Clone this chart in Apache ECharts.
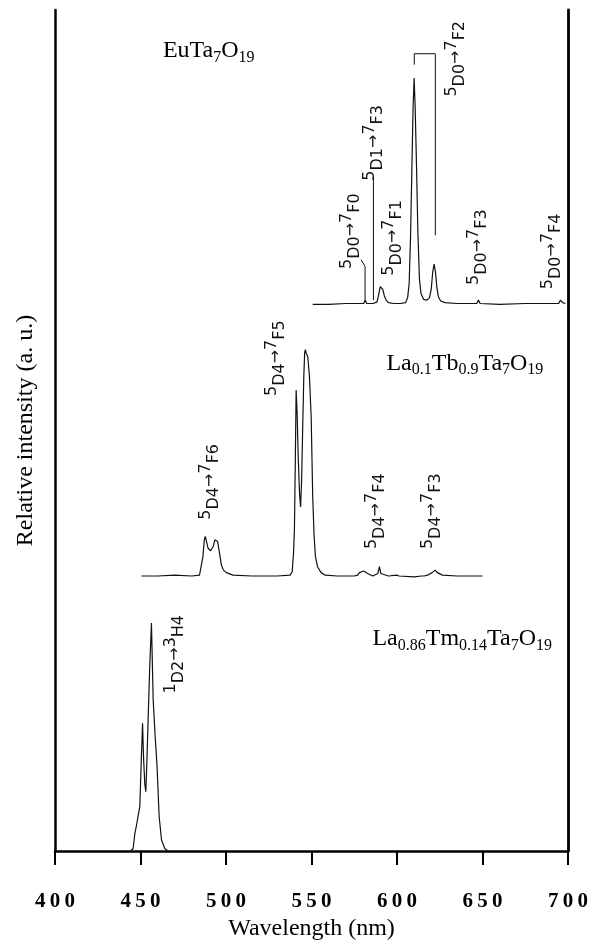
<!DOCTYPE html>
<html>
<head>
<meta charset="utf-8">
<script src="https://cdn.jsdelivr.net/npm/echarts@6/dist/echarts.min.js"></script>
<style>
  html, body { margin: 0; padding: 0; background: #fff; }
  #chart { width: 591px; height: 947px; }
</style>
</head>
<body>
<div id="chart"></div>
<script>
// EuTa7O19 spectrum (offset upwards)
const euWavelength = [550.7, 560, 570, 578, 580.5, 581.4, 582.3, 586, 588.3, 589.3, 590.2, 590.9, 591.6, 592.6, 593.6, 595, 598, 602, 605, 606.2, 607.1, 607.9, 608.7, 609.4, 610.0, 610.6, 611.4, 612.2, 613.1, 614.0, 615.5, 617.5, 619.0, 620.0, 620.9, 621.7, 622.5, 623.3, 624.2, 625.5, 628, 635, 645, 646.6, 647.6, 648.6, 660, 675, 690, 694.5, 695.6, 696.8, 698.5];
const euIntensity = [65.0, 65.0, 65.1, 65.1, 65.1, 65.5, 65.1, 65.1, 65.3, 66.2, 67.1, 67.0, 66.8, 66.0, 65.5, 65.2, 65.1, 65.1, 65.2, 65.8, 67.5, 73.0, 81.4, 88.5, 91.9, 88.5, 81.4, 73.5, 68.0, 66.3, 65.6, 65.5, 65.8, 66.8, 68.9, 69.8, 68.8, 67.0, 65.9, 65.4, 65.2, 65.1, 65.1, 65.1, 65.5, 65.1, 65.0, 65.1, 65.1, 65.1, 65.5, 65.2, 65.1];

// La0.1Tb0.9Ta7O19 spectrum
const tbWavelength = [450.6, 460, 470, 480, 484.5, 485.6, 486.5, 487.3, 487.9, 488.6, 489.5, 491.0, 492.5, 493.5, 494.3, 495.1, 495.9, 497.3, 498.5, 500.2, 504.1, 515, 530, 537.5, 538.7, 539.5, 540.0, 540.5, 541.0, 541.6, 542.2, 543.0, 543.6, 544.2, 544.8, 545.5, 546.0, 546.4, 546.9, 547.8, 548.8, 549.8, 550.7, 551.5, 552.3, 553.5, 555.6, 558, 565, 575, 577.0, 578.0, 579.0, 580.5, 581.5, 582.8, 585.8, 588.8, 589.7, 590.5, 591.5, 595, 599.8, 600.4, 601.2, 610, 614.3, 614.9, 615.8, 617.8, 620.5, 622.3, 623.5, 626.6, 635, 649.9];
const tbIntensity = [32.7, 32.7, 32.8, 32.7, 32.8, 33.0, 35.0, 37.0, 37.4, 36.8, 36.0, 35.7, 36.2, 37.0, 37.2, 36.8, 35.8, 34.0, 33.4, 33.1, 32.8, 32.7, 32.7, 32.8, 33.2, 35.5, 38.2, 46.0, 54.8, 52.0, 47.0, 42.5, 40.9, 44.0, 50.0, 56.5, 59.3, 59.6, 59.2, 58.8, 56.4, 51.6, 42.1, 37.5, 35.0, 33.8, 33.1, 32.8, 32.7, 32.7, 32.8, 33.1, 32.9, 33.3, 33.2, 33.0, 32.7, 33.0, 33.8, 33.0, 32.8, 32.7, 32.8, 33.0, 32.7, 32.6, 32.7, 32.9, 32.7, 32.8, 33.1, 33.4, 33.1, 32.8, 32.7, 32.7];

// La0.86Tm0.14Ta7O19 spectrum
const tmWavelength = [444, 445.7, 446.7, 447.6, 448.6, 449.6, 450.4, 451.2, 451.8, 452.5, 453.1, 453.8, 454.5, 455.4, 456.4, 457.4, 458.6, 459.7, 460.9, 462.3, 464.2, 466];
const tmIntensity = [0, 0.3, 2.1, 3.0, 2.9, 5.3, 10.5, 15.2, 11.0, 8.0, 7.05, 11.0, 16.0, 21.9, 27.1, 18.0, 13.5, 10.0, 4.1, 1.3, 0.3, 0];

// transition labels: [sup, low, sup, low], anchored at (wavelength, intensity)
const transitions = [
  { parts: ['5', 'D0', '7', 'F2'], wl: 634.4, val: 94.2 },
  { parts: ['5', 'D1', '7', 'F3'], wl: 586.7, val: 84.2 },
  { parts: ['5', 'D0', '7', 'F1'], wl: 597.4, val: 72.9 },
  { parts: ['5', 'D0', '7', 'F0'], wl: 573.2, val: 73.7 },
  { parts: ['5', 'D0', '7', 'F3'], wl: 647.1, val: 71.8 },
  { parts: ['5', 'D0', '7', 'F4'], wl: 690.8, val: 71.3 },
  { parts: ['5', 'D4', '7', 'F5'], wl: 529.4, val: 58.6 },
  { parts: ['5', 'D4', '7', 'F6'], wl: 490.5, val: 43.9 },
  { parts: ['5', 'D4', '7', 'F4'], wl: 587.7, val: 40.4 },
  { parts: ['5', 'D4', '7', 'F3'], wl: 620.2, val: 40.4 },
  { parts: ['1', 'D2', '3', 'H4'], wl: 470.0, val: 23.4 }
];

// sample names: alternating normal / subscript pieces
const samples = [
  { parts: ['EuTa', '7', 'O', '19'], wl: 463.1, val: 95.2 },
  { parts: ['La', '0.1', 'Tb', '0.9', 'Ta', '7', 'O', '19'], wl: 593.8, val: 58.0 },
  { parts: ['La', '0.86', 'Tm', '0.14', 'Ta', '7', 'O', '19'], wl: 585.6, val: 25.2 }
];

// assignment guide lines in the Eu spectrum
const guideLines = [
  [[586.2, 65.5], [586.2, 80.2]],
  [[581.3, 65.3], [581.3, 69.5], [579.0, 70.3]],
  [[610.1, 93.5], [610.1, 94.8], [622.4, 94.8], [622.4, 73.2]]
];

const toPairs = (xs, ys) => xs.map((x, i) => [x, ys[i]]);
const serif = 'Liberation Serif, Times New Roman, serif';

const chart = echarts.init(document.getElementById('chart'));

const lineSeries = (data) => ({
  type: 'line',
  data: data,
  showSymbol: false,
  symbol: 'none',
  silent: true,
  lineStyle: { color: '#111', width: 1.2 },
  animation: false
});

chart.setOption({
  animation: false,
  grid: { left: 55, right: 22, top: 10, bottom: 96 },
  xAxis: [{
    type: 'value',
    min: 400, max: 700, interval: 50,
    name: 'Wavelength (nm)',
    nameLocation: 'middle',
    nameGap: 62,
    nameTextStyle: { fontFamily: serif, fontSize: 24, color: '#000' },
    axisLine: { lineStyle: { color: '#000', width: 2.5 } },
    axisTick: { length: 14, lineStyle: { color: '#000', width: 2 } },
    axisLabel: {
      margin: 40,
      fontFamily: serif, fontSize: 21, fontWeight: 'bold', color: '#000',
      formatter: v => String(v).split('').join('\u2009')
    },
    splitLine: { show: false }
  }, {
    type: 'value', position: 'top',
    min: 400, max: 700,
    axisLine: { lineStyle: { color: '#000', width: 1 } },
    axisTick: { show: false }, axisLabel: { show: false }, splitLine: { show: false }
  }],
  yAxis: [{
    type: 'value',
    min: 0, max: 100,
    name: 'Relative intensity (a. u.)',
    nameLocation: 'middle',
    nameGap: 17,
    nameTextStyle: { fontFamily: serif, fontSize: 24, color: '#000' },
    axisLine: { show: true, lineStyle: { color: '#000', width: 2.5 } },
    axisTick: { show: false }, axisLabel: { show: false }, splitLine: { show: false }
  }, {
    type: 'value', position: 'right',
    min: 0, max: 100,
    axisLine: { show: true, lineStyle: { color: '#000', width: 2.8 } },
    axisTick: { show: false }, axisLabel: { show: false }, splitLine: { show: false }
  }],
  series: [
    lineSeries(toPairs(euWavelength, euIntensity)),
    lineSeries(toPairs(tbWavelength, tbIntensity)),
    lineSeries(toPairs(tmWavelength, tmIntensity))
  ]
});

const px = (p) => chart.convertToPixel({ xAxisIndex: 0, yAxisIndex: 0 }, p);

const transRich = {
  sup: { fontFamily: 'DejaVu Sans', fontSize: 16, lineHeight: 16, verticalAlign: 'top', fill: '#111' },
  low: { fontFamily: 'DejaVu Sans', fontSize: 16, lineHeight: 16, verticalAlign: 'bottom', fill: '#111' },
  mid: { fontFamily: 'DejaVu Sans', fontSize: 16, lineHeight: 24, verticalAlign: 'middle', fill: '#111' }
};
const nameRich = {
  n: { fontFamily: serif, fontSize: 24, lineHeight: 30, verticalAlign: 'middle', fill: '#000' },
  s: { fontFamily: serif, fontSize: 16, lineHeight: 16, verticalAlign: 'bottom', fill: '#000' }
};

const graphics = [];
transitions.forEach(t => {
  const [x, y] = px([t.wl, t.val]);
  graphics.push({
    type: 'text', x: x, y: y, rotation: Math.PI / 2, silent: true,
    style: {
      text: `{sup|${t.parts[0]}}{low|${t.parts[1]}}{mid|\u2192}{sup|${t.parts[2]}}{low|${t.parts[3]}}`,
      rich: transRich, align: 'center', verticalAlign: 'middle'
    }
  });
});
samples.forEach(s => {
  const [x, y] = px([s.wl, s.val]);
  const text = s.parts.map((p, i) => `{${i % 2 ? 's' : 'n'}|${p}}`).join('');
  graphics.push({
    type: 'text', x: x, y: y, silent: true,
    style: { text: text, rich: nameRich, align: 'left', verticalAlign: 'middle' }
  });
});
guideLines.forEach(pts => {
  graphics.push({
    type: 'polyline', silent: true,
    shape: { points: pts.map(px) },
    style: { stroke: '#111', lineWidth: 1, fill: null }
  });
});
chart.setOption({ graphic: graphics });
</script>
</body>
</html>
